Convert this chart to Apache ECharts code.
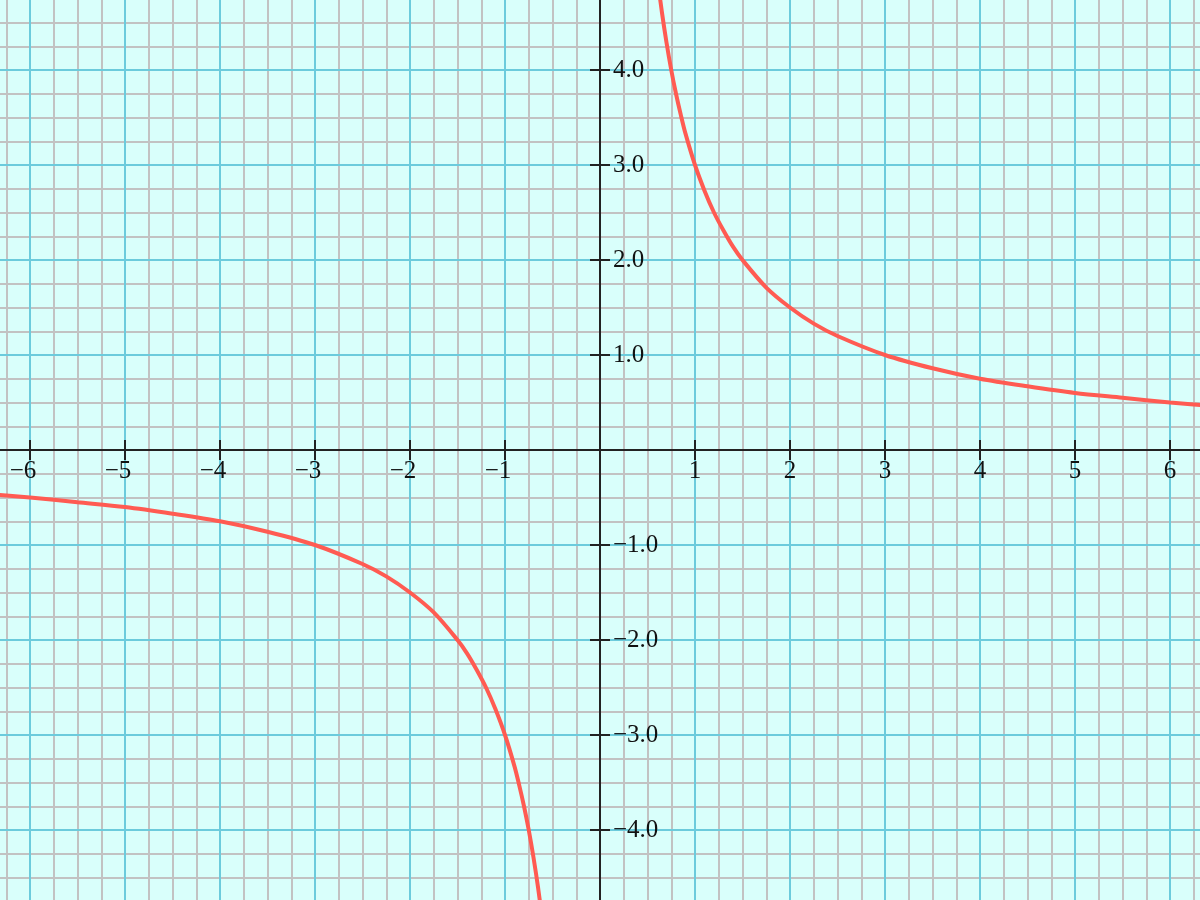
<!DOCTYPE html>
<html>
<head>
<meta charset="utf-8">
<script src="https://cdn.jsdelivr.net/npm/echarts@6/dist/echarts.min.js"></script>
<style>
html,body{margin:0;padding:0;background:#d9fffb;}
#main{width:1200px;height:900px;}
</style>
</head>
<body>
<div id="main"></div>
<script>
// Upper-right branch
const posX = [0.6, 0.65, 0.7, 0.75, 0.8, 0.85, 0.9, 1.0, 1.1, 1.2, 1.3, 1.4, 1.5, 1.75, 2.0, 2.25, 2.5, 3.0, 3.5, 4.0, 4.5, 5.0, 5.5, 6.0, 6.5];
const posY = [5.0, 4.62, 4.29, 4.0, 3.75, 3.53, 3.33, 3.0, 2.73, 2.5, 2.31, 2.14, 2.0, 1.71, 1.5, 1.33, 1.2, 1.0, 0.86, 0.75, 0.67, 0.6, 0.55, 0.5, 0.46];
// Lower-left branch
const negX = [-6.5, -6.0, -5.5, -5.0, -4.5, -4.0, -3.5, -3.0, -2.5, -2.25, -2.0, -1.75, -1.5, -1.4, -1.3, -1.2, -1.1, -1.0, -0.9, -0.85, -0.8, -0.75, -0.7, -0.65, -0.6];
const negY = [-0.46, -0.5, -0.55, -0.6, -0.67, -0.75, -0.86, -1.0, -1.2, -1.33, -1.5, -1.71, -2.0, -2.14, -2.31, -2.5, -2.73, -3.0, -3.33, -3.53, -3.75, -4.0, -4.29, -4.62, -5.0];
// Tick labels
const xTickValues = [-6, -5, -4, -3, -2, -1, 1, 2, 3, 4, 5, 6];
const yTickValues = [-4, -3, -2, -1, 1, 2, 3, 4];

const X_MIN = -7, X_MAX = 7, Y_MIN = -5, Y_MAX = 5;
const FONT = 'Liberation Serif';
const FS = 25;
const MINUS = '\u2212';

const minorGray = '#c2c2c2';
const majorCyan = '#6ccbdc';
const axisBlack = '#222222';
const curveRed = '#ff5b52';

function ax(extra, min, max) {
  return Object.assign({
    type: 'value', min: min, max: max, interval: 1,
    axisLine: {show: false, onZero: false}, axisTick: {show: false}, axisLabel: {show: false},
    splitLine: {show: false}
  }, extra);
}
const lineStyle = {color: axisBlack, width: 2};
const tickStyle = {color: axisBlack, width: 2};

// grids: 0 main plot; 1 bottom edge on y=0; 2 top edge on y=0; 3 left edge on x=0; 4 right edge on x=0
const grids = [
  {left: -65, right: -65, top: -25, bottom: -25},
  {left: -65, right: -65, top: -25, bottom: 450},
  {left: -65, right: -65, top: 450, bottom: -25},
  {left: 600, right: -65, top: -25, bottom: -25},
  {left: -65, right: 600, top: -25, bottom: -25}
].map(g => Object.assign({containLabel: false, outerBoundsMode: 'none'}, g));

const xAxes = [
  ax({gridIndex: 0, z: 1, minorTick: {show: false, splitNumber: 4}, minorSplitLine: {show: true, lineStyle: {color: minorGray, width: 2}}}, X_MIN, X_MAX),
  ax({gridIndex: 0, z: 2, splitLine: {show: true, lineStyle: {color: majorCyan, width: 2}}}, X_MIN, X_MAX),
  ax({gridIndex: 1, z: 5, position: 'bottom',
    axisLine: {show: true, onZero: false, lineStyle: lineStyle},
    axisTick: {show: true, inside: true, length: 10, lineStyle: tickStyle}}, X_MIN, X_MAX),
  ax({gridIndex: 2, z: 5, position: 'top',
    axisLine: {show: true, onZero: false, lineStyle: lineStyle},
    axisTick: {show: true, inside: true, length: 10, lineStyle: tickStyle},
    axisLabel: {show: true, inside: true, margin: 9, fontFamily: FONT, fontSize: FS, color: '#111',
      formatter: function (v) {
        if (xTickValues.indexOf(v) < 0) return '';
        if (v < 0) return MINUS + Math.abs(v) + '{h|' + MINUS + '}';
        return String(v);
      },
      rich: {h: {color: 'rgba(0,0,0,0)', fontFamily: FONT, fontSize: FS}}
    }}, X_MIN, X_MAX),
  ax({gridIndex: 3, show: false}, X_MIN, X_MAX),
  ax({gridIndex: 4, show: false}, X_MIN, X_MAX)
];

const yAxes = [
  ax({gridIndex: 0, z: 1, minorTick: {show: false, splitNumber: 4}, minorSplitLine: {show: true, lineStyle: {color: minorGray, width: 2}}}, Y_MIN, Y_MAX),
  ax({gridIndex: 0, z: 2, splitLine: {show: true, lineStyle: {color: majorCyan, width: 2}}}, Y_MIN, Y_MAX),
  ax({gridIndex: 1, show: false}, Y_MIN, Y_MAX),
  ax({gridIndex: 2, show: false}, Y_MIN, Y_MAX),
  ax({gridIndex: 3, z: 5, position: 'left',
    axisLine: {show: true, onZero: false, lineStyle: lineStyle},
    axisTick: {show: true, inside: true, length: 10, lineStyle: tickStyle},
    axisLabel: {show: true, inside: true, margin: 13, fontFamily: FONT, fontSize: FS, color: '#111',
      formatter: function (v) {
        if (yTickValues.indexOf(v) < 0) return '';
        return (v < 0 ? MINUS : '') + Math.abs(v).toFixed(1);
      }
    }}, Y_MIN, Y_MAX),
  ax({gridIndex: 4, z: 5, position: 'right',
    axisLine: {show: true, onZero: false, lineStyle: lineStyle},
    axisTick: {show: true, inside: true, length: 10, lineStyle: tickStyle}}, Y_MIN, Y_MAX)
];

function pairs(xs, ys) { return xs.map((x, i) => [x, ys[i]]); }

const chart = echarts.init(document.getElementById('main'), null, {renderer: 'canvas'});
chart.setOption({
  backgroundColor: '#d9fffb',
  animation: false,
  grid: grids,
  xAxis: xAxes,
  yAxis: yAxes,
  series: [
    {type: 'line', xAxisIndex: 0, yAxisIndex: 0, data: pairs(posX, posY), smooth: 0.3, showSymbol: false, z: 10,
      lineStyle: {color: curveRed, width: 4}},
    {type: 'line', xAxisIndex: 0, yAxisIndex: 0, data: pairs(negX, negY), smooth: 0.3, showSymbol: false, z: 10,
      lineStyle: {color: curveRed, width: 4}}
  ]
});
</script>
</body>
</html>
